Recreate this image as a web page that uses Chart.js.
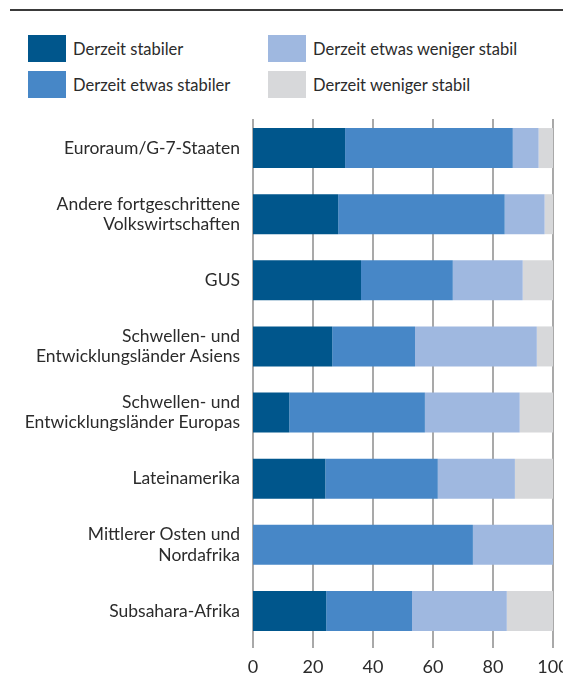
<!DOCTYPE html>
<html>
<head>
<meta charset="utf-8">
<script src="https://cdn.jsdelivr.net/npm/chart.js@4/dist/chart.umd.min.js"></script>
<style>
  html, body { margin: 0; padding: 0; background: #fff; }
  body { width: 563px; height: 673px; position: relative; overflow: hidden; font-family: Lato, "Noto Sans", sans-serif; color: #2b2b2b; }
  #topline { position: absolute; left: 10px; top: 9px; width: 553px; height: 2px; background: #3a3a3a; }
  #wrap { position: absolute; left: 0; top: 0; width: 563px; height: 673px; }
  .leg { position: absolute; display: flex; align-items: center; font-size: 16.5px; white-space: nowrap; }
  .leg .sw { width: 38px; height: 27px; margin-right: 7px; }
</style>
</head>
<body>
<div id="topline"></div>
<div id="legend"></div>
<div id="wrap"><canvas id="c" width="563" height="673"></canvas></div>
<script>
const categories = [
  ["Euroraum/G-7-Staaten"],
  ["Andere fortgeschrittene", "Volkswirtschaften"],
  ["GUS"],
  ["Schwellen- und", "Entwicklungsländer Asiens"],
  ["Schwellen- und", "Entwicklungsländer Europas"],
  ["Lateinamerika"],
  ["Mittlerer Osten und", "Nordafrika"],
  ["Subsahara-Afrika"]
];
const seriesNames = ["Derzeit stabiler", "Derzeit etwas stabiler", "Derzeit etwas weniger stabil", "Derzeit weniger stabil"];
const stabiler        = [30.7, 28.4, 36.0, 26.4, 12.1, 24.1, 0.0, 24.4];
const etwasStabiler   = [55.9, 55.5, 30.6, 27.6, 45.2, 37.5, 73.3, 28.6];
const etwasWeniger    = [8.6, 13.3, 23.3, 40.6, 31.6, 25.7, 26.7, 31.6];
const weniger         = [4.8, 2.8, 10.1, 5.4, 11.1, 12.7, 0.0, 15.4];
const xTicks = [0, 20, 40, 60, 80, 100];

const colors = ["#00568C", "#4787C7", "#9FB8E0", "#D7D8DA"];
const seriesData = [stabiler, etwasStabiler, etwasWeniger, weniger];

// HTML legend (two columns)
const legendPos = [[28, 35], [28, 71], [268, 35], [268, 71]];
const legendEl = document.getElementById('legend');
seriesNames.forEach((n, i) => {
  const d = document.createElement('div');
  d.className = 'leg';
  d.style.left = legendPos[i][0] + 'px';
  d.style.top = legendPos[i][1] + 'px';
  d.innerHTML = '<div class="sw" style="background:' + colors[i] + '"></div><span>' + n + '</span>';
  legendEl.appendChild(d);
});

const gridPlugin = {
  id: 'customGrid',
  beforeDatasetsDraw(chart) {
    const { ctx, chartArea, scales } = chart;
    ctx.save();
    ctx.strokeStyle = '#8c8c8c';
    ctx.lineWidth = 1.5;
    xTicks.forEach(v => {
      const x = Math.round(scales.x.getPixelForValue(v));
      ctx.beginPath();
      ctx.moveTo(x, chartArea.top + 4);
      ctx.lineTo(x, chartArea.bottom + 4);
      ctx.stroke();
    });
    ctx.restore();
  }
};

new Chart(document.getElementById('c'), {
  type: 'bar',
  data: {
    labels: categories,
    datasets: seriesNames.map((n, i) => ({
      label: n,
      data: seriesData[i],
      backgroundColor: colors[i],
      borderWidth: 0,
      categoryPercentage: 1,
      barPercentage: 0.605
    }))
  },
  options: {
    indexAxis: 'y',
    responsive: false,
    animation: false,
    maintainAspectRatio: false,
    layout: { padding: { top: 115, right: 10, left: 0, bottom: 0 } },
    plugins: { legend: { display: false }, tooltip: { enabled: false } },
    scales: {
      x: {
        stacked: true,
        min: 0, max: 100,
        afterBuildTicks(s) { s.ticks = xTicks.map(v => ({ value: v })); },
        afterFit(s) { s.height = 29; s.paddingLeft = 0; s.paddingRight = 0; },
        grid: { display: false, drawTicks: false },
        border: { display: false },
        ticks: { padding: 12, color: '#2b2b2b', font: { family: 'Lato', size: 18 } }
      },
      y: {
        stacked: true,
        afterFit(s) { s.width = 253; s.paddingTop = 0; s.paddingBottom = 0; },
        grid: { display: false, drawTicks: false },
        border: { display: false },
        ticks: { padding: 13, color: '#2b2b2b', font: { family: 'Lato', size: 17.5, lineHeight: 1.15 } }
      }
    }
  },
  plugins: [gridPlugin]
});
</script>
</body>
</html>
